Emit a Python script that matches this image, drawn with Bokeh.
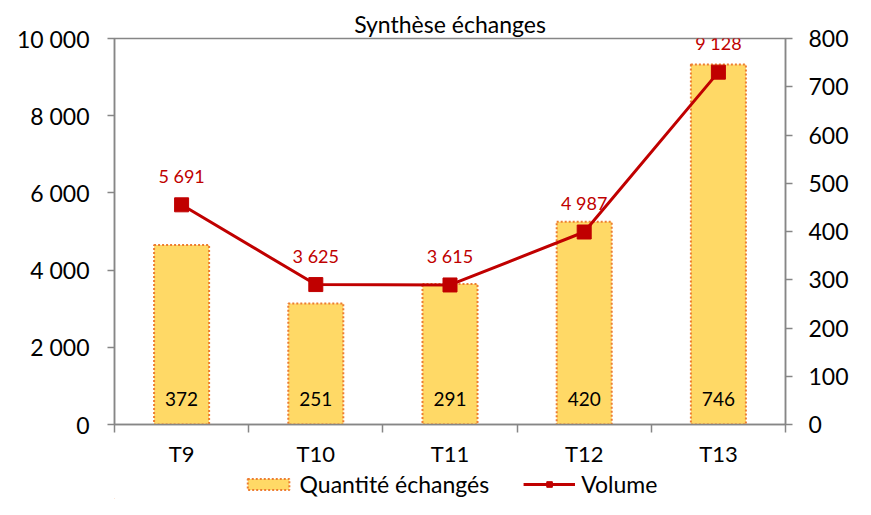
from bokeh.plotting import figure
from bokeh.layouts import column
from bokeh.models import Range1d, LinearAxis, FixedTicker, ColumnDataSource, Legend, LegendItem, LabelSet
from bokeh.core.properties import value
from bokeh.embed import file_html
from bokeh.resources import INLINE

categories = ["T9", "T10", "T11", "T12", "T13"]
quantite = [372, 251, 291, 420, 746]
volume = [5691, 3625, 3615, 4987, 9128]
left_ticks = [0, 2000, 4000, 6000, 8000, 10000]
right_ticks = [0, 100, 200, 300, 400, 500, 600, 700, 800]
series_names = ["Quantité échangés", "Volume"]

def fr(v):
    return f"{v:,}".replace(",", " ")

xs = list(range(1, len(categories) + 1))
src = ColumnDataSource(dict(
    x=xs, q=quantite, v=volume,
    ql=[fr(v) for v in quantite], vl=[fr(v) for v in volume],
    q0=[0] * len(xs),
))

FONT = "Lato"
GRAY = "#868686"
BAR_STYLE = dict(fill_color="#FFD966", line_color="#ED7D31", line_dash="2 2", line_width=2)
LINE_COLOR = "#C00000"

p = figure(width=855, height=469, output_backend="svg", toolbar_location=None,
           x_range=Range1d(0.5, len(categories) + 0.5), y_range=Range1d(0, 10000),
           min_border_left=114, min_border_right=70, min_border_top=38, min_border_bottom=36)
p.extra_y_ranges = {"right": Range1d(0, 800)}
p.xgrid.visible = False
p.ygrid.visible = False
p.outline_line_color = GRAY
p.outline_line_width = 1.5

p.title.text = "Synthèse échanges"
p.title.align = "center"
p.title.text_font = FONT
p.title.text_font_size = "23px"
p.title.text_font_style = "normal"
p.title.text_color = "#000000"
p.title.standoff = 2

p.vbar(x="x", top="q", width=0.41, bottom=0, source=src, y_range_name="right", **BAR_STYLE)
p.line(x="x", y="v", source=src, line_color=LINE_COLOR, line_width=3)
p.scatter(x="x", y="v", source=src, marker="square", size=14,
          fill_color=LINE_COLOR, line_color=LINE_COLOR)

# axes
xa = p.xaxis[0]
xa.ticker = FixedTicker(ticks=xs, minor_ticks=[i + 0.5 for i in range(0, len(categories) + 1)])
xa.major_label_overrides = {x: c for x, c in zip(xs, categories)}
xa.major_tick_line_color = None
xa.major_tick_out = 0
xa.minor_tick_out = 8
xa.minor_tick_in = 0
xa.minor_tick_line_color = GRAY
xa.minor_tick_line_width = 1.5
xa.axis_line_color = GRAY
xa.axis_line_width = 1.5
xa.major_label_text_font = FONT
xa.major_label_text_font_size = "22px"
xa.major_label_text_color = "#000000"
xa.major_label_standoff = 7

ya = p.yaxis[0]
ya.ticker = FixedTicker(ticks=left_ticks)
ya.major_label_overrides = {t: fr(t) for t in left_ticks}
ya.minor_tick_line_color = None
ya.major_tick_out = 7
ya.major_tick_in = 0
ya.major_tick_line_color = GRAY
ya.major_tick_line_width = 1.5
ya.axis_line_color = GRAY
ya.axis_line_width = 1.5
ya.major_label_text_font = FONT
ya.major_label_text_font_size = "23px"
ya.major_label_text_color = "#000000"
ya.major_label_standoff = 18

ra = LinearAxis(y_range_name="right", ticker=FixedTicker(ticks=right_ticks))
ra.minor_tick_line_color = None
ra.major_tick_out = 7
ra.major_tick_in = 0
ra.major_tick_line_color = GRAY
ra.major_tick_line_width = 1.5
ra.axis_line_color = GRAY
ra.axis_line_width = 1.5
ra.major_label_text_font = FONT
ra.major_label_text_font_size = "23px"
ra.major_label_text_color = "#000000"
ra.major_label_standoff = 16
p.add_layout(ra, "right")

# data labels
p.add_layout(LabelSet(x="x", y="q0", text="ql", source=src, y_range_name="right",
                      text_align="center", text_baseline="middle", y_offset=26,
                      text_font=value(FONT), text_font_size="19px", text_color="#000000"))
p.add_layout(LabelSet(x="x", y="v", text="vl", source=src,
                      text_align="center", text_baseline="middle", y_offset=29,
                      text_font=value(FONT), text_font_size="18px", text_color=LINE_COLOR))

# legend strip below the chart (its renderers hold one sample point kept outside the view)
lg = figure(width=855, height=30, output_backend="svg", toolbar_location=None,
            x_range=Range1d(0, 1), y_range=Range1d(0, 1),
            x_axis_location=None, y_axis_location=None,
            min_border=0)
lg.xgrid.visible = False
lg.ygrid.visible = False
lg.outline_line_color = None
sample = ColumnDataSource(dict(x=[-5], y=[-5], top=[-5]))
lb = lg.vbar(x="x", top="top", width=0.1, source=sample, **BAR_STYLE)
ll = lg.line(x="x", y="y", source=sample, line_color=LINE_COLOR, line_width=3)
lm = lg.scatter(x="x", y="y", source=sample, marker="square", size=14,
                fill_color=LINE_COLOR, line_color=LINE_COLOR)
legend = Legend(items=[LegendItem(label=series_names[0], renderers=[lb]),
                       LegendItem(label=series_names[1], renderers=[ll, lm])],
                orientation="horizontal", location="center",
                label_text_font=FONT, label_text_font_size="23px", label_text_color="#000000",
                glyph_width=52, glyph_height=14, label_standoff=6, spacing=34,
                border_line_color=None, background_fill_alpha=0, padding=0, margin=0,
                label_height=22)
lg.add_layout(legend)

open("out.html", "w").write(file_html(column(p, lg, spacing=0), INLINE))
